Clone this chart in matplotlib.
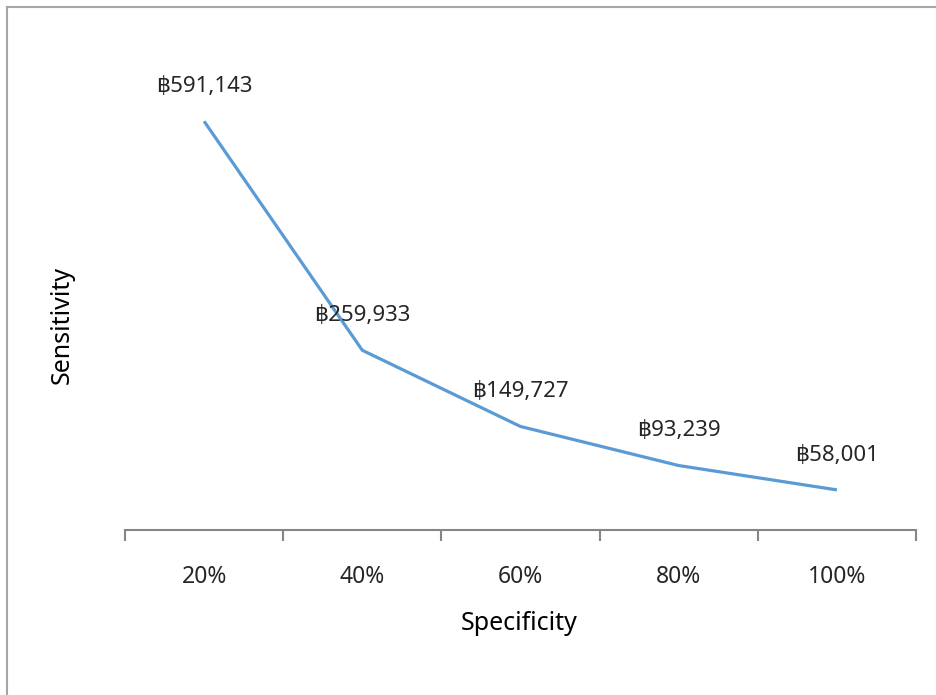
import numpy as np
import matplotlib.pyplot as plt
from matplotlib.lines import Line2D

plt.rcParams['font.family'] = ['Noto Sans', 'DejaVu Sans']

categories = ['20%', '40%', '60%', '80%', '100%']
costs = [591143, 259933, 149727, 93239, 58001]

line_color = '#5B9BD5'
axis_gray = '#868686'
text_color = '#262626'

fig = plt.figure(figsize=(9.37, 6.95), dpi=100)
ax = fig.add_axes([125/937, 1 - 530/695, (916 - 125)/937, (530 - 46)/695])

x = np.arange(len(categories))
ax.plot(x, costs, color=line_color, linewidth=2.3, solid_capstyle='butt')

for xi, v in zip(x, costs):
    ax.annotate('฿{:,}'.format(v), xy=(xi, v), xytext=(0, 25),
                textcoords='offset points', ha='center', va='center',
                fontsize=16, color=text_color)

ax.set_xlim(-0.5, len(categories) - 0.5)
ax.set_ylim(0, 700000)

# boundary ticks between categories, labels centred on each category
ax.set_xticks(np.arange(-0.5, len(categories), 1.0))
ax.set_xticklabels([])
ax.tick_params(axis='x', which='major', direction='out', length=8,
               width=1.5, color=axis_gray)
ax.set_xticks(x, minor=True)
ax.set_xticklabels(categories, minor=True)
ax.tick_params(axis='x', which='minor', length=0, pad=25, labelsize=16.5,
               labelcolor=text_color)
ax.set_yticks([])

for side in ['top', 'right', 'left']:
    ax.spines[side].set_visible(False)
ax.spines['bottom'].set_color(axis_gray)
ax.spines['bottom'].set_linewidth(1.5)

fig.text(519/937, 1 - 623/695, 'Specificity', ha='center', va='center',
         fontsize=18, color='black')
fig.text(62/937, 1 - 325/695, 'Sensitivity', ha='center', va='center',
         rotation=90, fontsize=18, color='black')

# chart area outline
fig.add_artist(Line2D([7/937, 1.01], [1 - 7/695, 1 - 7/695],
                      transform=fig.transFigure, color='#A6A6A6', linewidth=1.5))
fig.add_artist(Line2D([7/937, 7/937], [1 - 7/695, -0.01],
                      transform=fig.transFigure, color='#A6A6A6', linewidth=1.5))

fig.savefig('out.png', dpi=100)
